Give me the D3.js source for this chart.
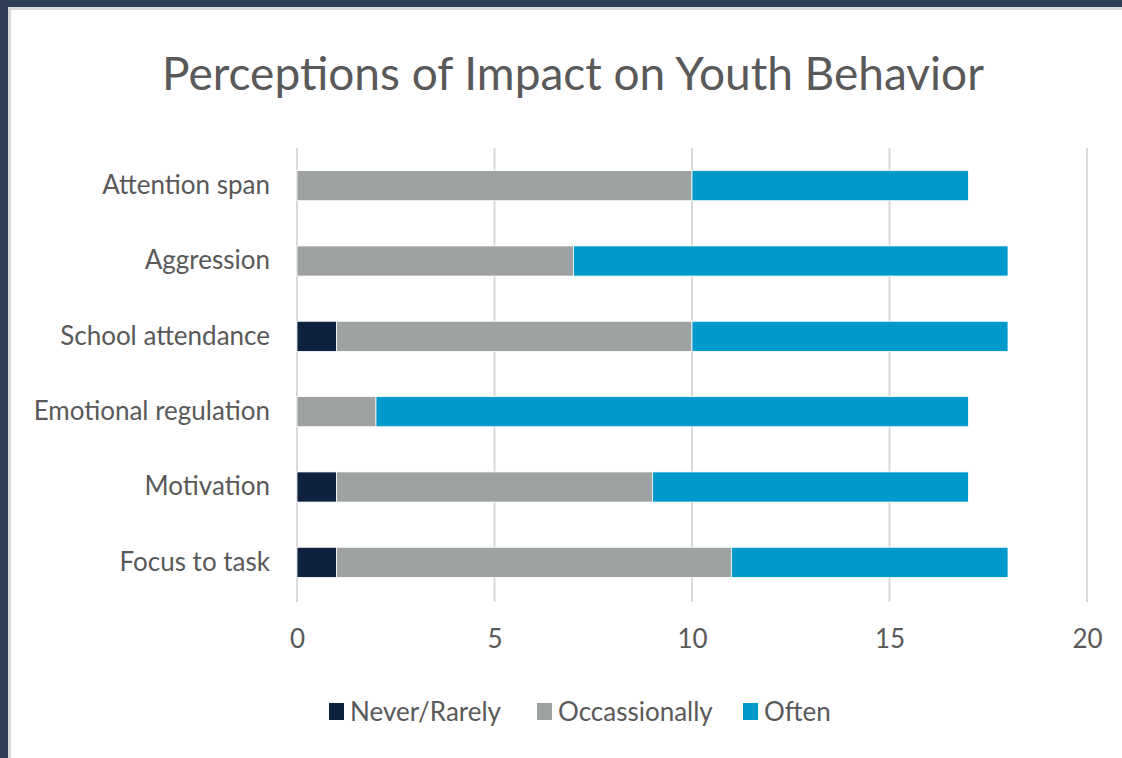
<!DOCTYPE html>
<html>
<head>
<meta charset="utf-8">
<script src="https://cdn.jsdelivr.net/npm/d3@7"></script>
<style>
  html, body { margin: 0; padding: 0; background: #2f3e55; }
  svg { display: block; }
</style>
</head>
<body>
<svg id="chart" width="1122" height="758"></svg>
<script>
// Survey responses per behaviour area
const categories = ["Attention span", "Aggression", "School attendance", "Emotional regulation", "Motivation", "Focus to task"];
const seriesNames = ["Never/Rarely", "Occassionally", "Often"];
const neverRarely   = [0, 0, 1, 0, 1, 1];
const occasionally  = [10, 7, 9, 2, 8, 10];
const often         = [7, 11, 8, 15, 8, 7];
const xTicks = [0, 5, 10, 15, 20];
const colors = ["#0e223f", "#9fa2a3", "#0099cc"];

const svg = d3.select("#chart");
const W = 1122, H = 758;
const font = "Lato, 'Open Sans', sans-serif";
const textColor = "#595959";

// panel background with the thin grey edge
svg.append("rect").attr("x", 8).attr("y", 7).attr("width", W - 8).attr("height", H - 7).attr("fill", "#d9d9d9");
svg.append("rect").attr("x", 11).attr("y", 10).attr("width", W - 11).attr("height", H - 10).attr("fill", "#ffffff");

svg.append("text")
  .attr("x", 573).attr("y", 90)
  .attr("text-anchor", "middle")
  .attr("font-family", font).attr("font-size", 46)
  .attr("fill", textColor)
  .text("Perceptions of Impact on Youth Behavior");

const x = d3.scaleLinear().domain([0, 20]).range([297, 1087]);
const y = d3.scaleBand().domain(categories).range([148, 600]).paddingInner(0.6).paddingOuter(0.3);

// gridlines
svg.append("g").selectAll("line").data(xTicks).join("line")
  .attr("x1", d => x(d)).attr("x2", d => x(d))
  .attr("y1", 148).attr("y2", 602)
  .attr("stroke", "#d9d9d9").attr("stroke-width", 2);

// stacked bars
const rows = categories.map((c, i) => ({ cat: c, "Never/Rarely": neverRarely[i], "Occassionally": occasionally[i], "Often": often[i] }));
const stacked = d3.stack().keys(seriesNames)(rows);
svg.append("g").selectAll("g").data(stacked).join("g")
  .attr("fill", (d, i) => colors[i])
  .selectAll("rect").data(d => d).join("rect")
  .attr("x", d => x(d[0]))
  .attr("width", d => x(d[1]) - x(d[0]))
  .attr("y", d => y(d.data.cat))
  .attr("height", y.bandwidth())
  .attr("stroke", "#ffffff").attr("stroke-width", d => (d[1] - d[0]) > 0 ? 0.8 : 0);

// category labels
const yAxis = svg.append("g").attr("transform", `translate(${x(0)},0)`)
  .call(d3.axisLeft(y).tickSize(0).tickPadding(27));
yAxis.select(".domain").remove();
yAxis.selectAll("text").attr("font-family", font).attr("font-size", 26).attr("fill", textColor);

// value axis
const xAxis = svg.append("g").attr("transform", "translate(0,602)")
  .call(d3.axisBottom(x).tickValues(xTicks).tickSize(0).tickPadding(28));
xAxis.select(".domain").remove();
xAxis.selectAll("text").attr("font-family", font).attr("font-size", 26).attr("fill", textColor);

// legend
const legendX = [329, 537, 743];
const legend = svg.append("g").selectAll("g").data(seriesNames).join("g")
  .attr("transform", (d, i) => `translate(${legendX[i]},712)`);
legend.append("rect").attr("x", 0).attr("y", -9).attr("width", 15).attr("height", 17)
  .attr("fill", (d, i) => colors[i]);
legend.append("text").attr("x", 21).attr("y", 0).attr("dy", "0.35em")
  .attr("font-family", font).attr("font-size", 26).attr("fill", textColor)
  .text(d => d);
</script>
</body>
</html>
